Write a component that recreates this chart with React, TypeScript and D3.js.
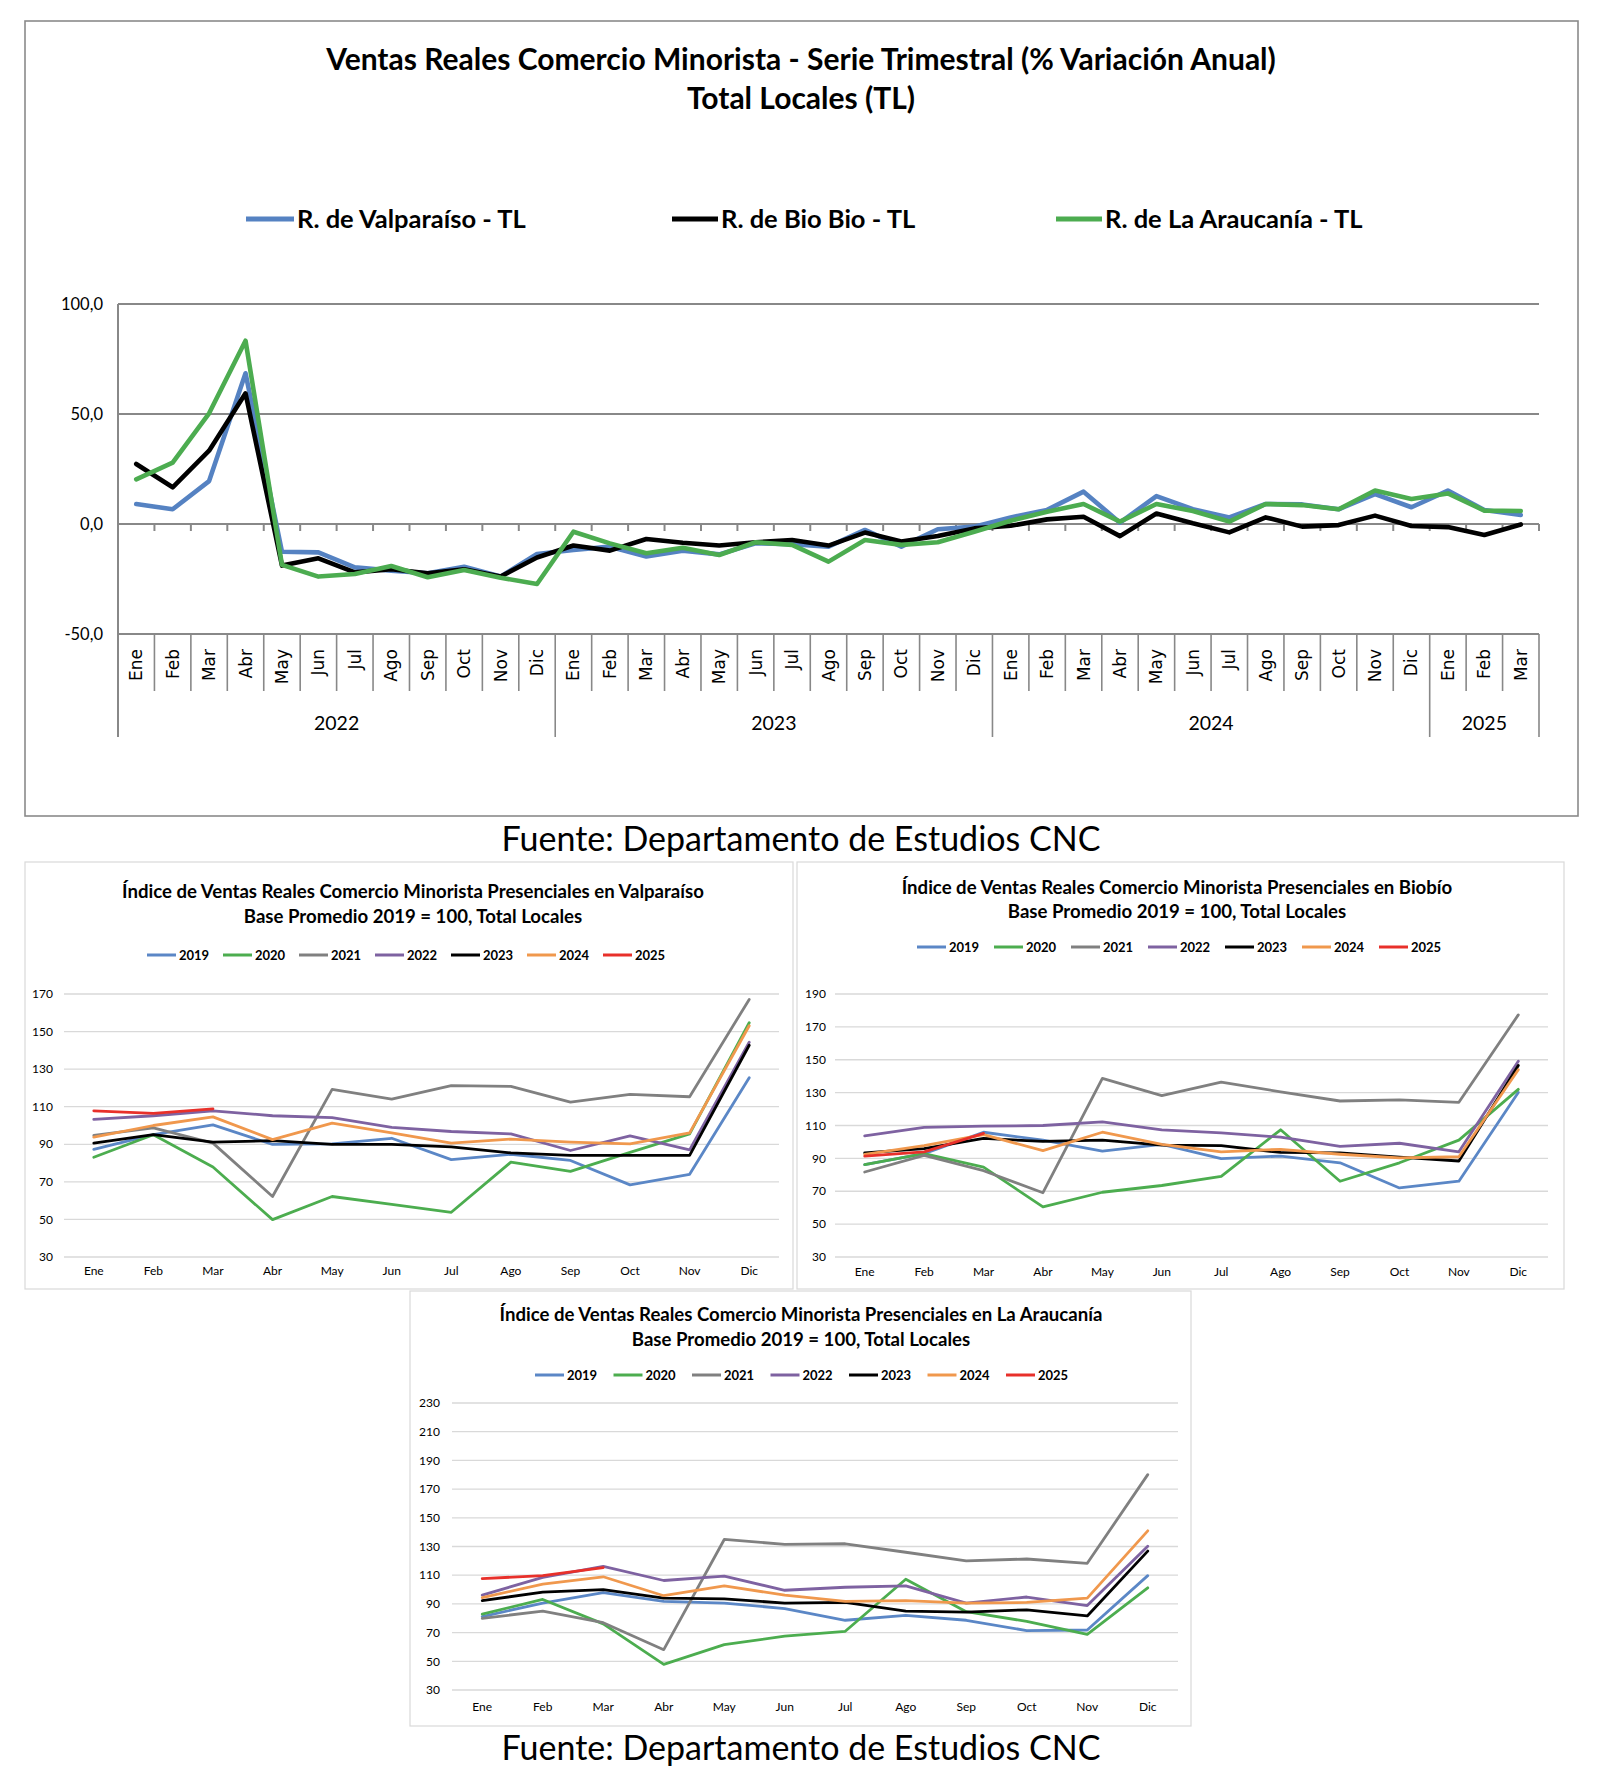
import React from "react";
import * as d3 from "d3";

// ---------- Top chart data ----------
const monthNames = ["Ene", "Feb", "Mar", "Abr", "May", "Jun", "Jul", "Ago", "Sep", "Oct", "Nov", "Dic"];
const topYears = ["2022", "2023", "2024", "2025"];
const topYearMonthCounts = [12, 12, 12, 3];
const topMonthLabels = [
  ...monthNames, ...monthNames, ...monthNames, "Ene", "Feb", "Mar",
];
const valparaisoTL = [
  9.1, 6.7, 19.5, 68.5, -12.6, -12.9, -19.7, -21.2, -22.4, -19.4, -23.9, -13.6,
  -11.8, -10.3, -14.8, -12.1, -13.8, -8.8, -9.2, -10.3, -2.7, -10.3, -2.4, -1.2,
  3.0, 6.4, 14.7, 0.6, 12.7, 6.7, 3.0, 9.1, 8.9, 6.7, 13.6, 7.6,
  15.2, 6.4, 4.1,
];
const bioBioTL = [
  27.3, 16.7, 33.3, 59.4, -18.9, -15.6, -22.0, -20.6, -22.4, -20.6, -23.9, -15.2,
  -9.8, -12.1, -6.8, -8.5, -9.8, -8.3, -7.3, -9.8, -3.9, -8.0, -5.5, -2.0,
  -0.8, 2.1, 3.3, -5.5, 4.8, 0.3, -3.8, 3.0, -1.2, -0.5, 3.8, -0.9,
  -1.4, -5.0, -0.2,
];
const araucaniaTL = [
  20.3, 27.9, 50.3, 83.3, -18.6, -23.9, -22.7, -19.1, -24.2, -20.9, -24.4, -27.3,
  -3.5, -8.8, -13.3, -10.8, -14.1, -8.3, -9.5, -17.1, -7.3, -9.5, -8.3, -3.5,
  1.5, 5.6, 9.1, 1.1, 9.1, 5.9, 1.1, 9.1, 8.6, 6.7, 15.2, 11.4,
  13.9, 6.1, 5.9,
];
const topSeriesNames = ["R. de Valparaíso - TL", "R. de Bio Bio - TL", "R. de La Araucanía - TL"];
const topYTicks = [100, 50, 0, -50];
const topYTickLabels = ["100,0", "50,0", "0,0", "-50,0"];

// ---------- Bottom charts data ----------
const yearKeys = ["2019", "2020", "2021", "2022", "2023", "2024", "2025"];

const valp2019 = [87.3, 95.1, 100.3, 89.9, 90.2, 93.2, 81.8, 84.7, 81.4, 68.4, 74.0, 125.4];
const valp2020 = [83.1, 95.1, 77.9, 49.9, 62.2, 58.0, 53.8, 80.5, 75.6, 85.7, 95.5, 154.7];
const valp2021 = [94.8, 98.7, 90.6, 62.2, 119.2, 114.0, 121.2, 120.8, 112.4, 116.6, 115.3, 167.1];
const valp2022 = [103.3, 105.2, 107.8, 105.2, 104.2, 99.0, 96.8, 95.5, 86.7, 94.5, 87.0, 144.3];
const valp2023 = [90.6, 95.1, 91.2, 91.9, 89.9, 89.9, 88.6, 85.4, 84.1, 84.1, 84.1, 142.7];
const valp2024 = [93.8, 100.0, 104.6, 92.5, 101.3, 96.1, 90.6, 92.8, 91.2, 90.2, 96.1, 153.1];
const valp2025 = [107.8, 106.5, 108.8];

const bio2019 = [86.2, 92.9, 105.9, 101.1, 94.4, 98.5, 89.9, 91.4, 87.3, 72.0, 76.1, 130.1];
const bio2020 = [86.2, 92.9, 84.7, 60.5, 69.4, 73.5, 79.1, 107.4, 76.1, 87.3, 101.1, 132.0];
const bio2021 = [81.7, 91.8, 82.5, 69.1, 138.7, 128.2, 136.4, 130.5, 124.9, 125.6, 124.1, 177.3];
const bio2022 = [103.7, 108.9, 109.6, 110.0, 112.2, 107.4, 105.5, 102.9, 97.3, 99.2, 94.0, 149.1];
const bio2023 = [93.3, 95.9, 102.2, 100.3, 101.1, 98.1, 97.7, 93.6, 93.3, 90.7, 88.4, 146.5];
const bio2024 = [92.5, 97.7, 104.4, 94.7, 105.9, 98.5, 94.0, 95.5, 92.5, 90.3, 91.0, 143.9];
const bio2025 = [91.4, 94.0, 105.2];

const arau2019 = [81.2, 90.6, 97.8, 91.8, 90.6, 86.7, 78.6, 82.0, 78.6, 71.4, 71.8, 109.7];
const arau2020 = [82.9, 93.1, 76.1, 47.9, 61.6, 67.5, 70.9, 107.2, 84.6, 77.8, 68.8, 101.2];
const arau2021 = [79.9, 85.0, 76.9, 58.1, 134.9, 131.5, 131.9, 126.0, 120.0, 121.3, 118.3, 180.1];
const arau2022 = [96.1, 108.5, 116.1, 106.3, 109.3, 99.5, 101.6, 102.5, 90.6, 94.8, 88.8, 130.2];
const arau2023 = [92.3, 98.2, 99.9, 94.0, 93.5, 90.6, 91.0, 85.0, 84.2, 85.9, 81.6, 126.8];
const arau2024 = [94.4, 103.8, 108.9, 95.7, 102.5, 96.1, 91.8, 92.3, 90.6, 91.0, 94.0, 140.9];
const arau2025 = [107.6, 109.7, 115.3];

const valpTicks = [30, 50, 70, 90, 110, 130, 150, 170];
const bioTicks = [30, 50, 70, 90, 110, 130, 150, 170, 190];
const arauTicks = [30, 50, 70, 90, 110, 130, 150, 170, 190, 210, 230];

const sourceText = "Fuente: Departamento de Estudios CNC";

// ---------- styles ----------
const CAL = "Lato, 'Open Sans', sans-serif";
const topColors = ["#5582c2", "#000000", "#4cac50"];
const yearColors = ["#5b87c6", "#4cad4f", "#808080", "#7e62a1", "#000000", "#f0984d", "#e8302a"];

function TopChart() {
  const left = 118;
  const right = 1539;
  const x = d3.scaleBand<number>().domain(d3.range(39)).range([left, right]).padding(0);
  const bw = x.bandwidth();
  const cx = (i: number) => (x(i) as number) + bw / 2;
  const y = d3.scaleLinear().domain([-50, 100]).range([634, 304]);
  const line = d3.line<number>().x((_, i) => cx(i)).y((d) => y(d));
  const series = [valparaisoTL, bioBioTL, araucaniaTL];
  const legendX = [{ l: 246, t: 297 }, { l: 672, t: 721 }, { l: 1056, t: 1105 }];
  const gridColor = "#888888";
  const axisBottom = 737;
  const monthSepBottom = 691;
  const yearBounds: number[] = [0];
  topYearMonthCounts.forEach((c) => yearBounds.push(yearBounds[yearBounds.length - 1] + c));
  const bx = (k: number) => left + k * bw;

  return (
    <g>
      <rect x={25} y={21} width={1553} height={795} fill="#fff" stroke="#8a8a8a" strokeWidth={1.6} />
      <text x={801} y={70} textAnchor="middle" fontFamily={CAL} fontWeight={700} fontSize={30} fill="#000">
        Ventas Reales Comercio Minorista - Serie Trimestral (% Variación Anual)
      </text>
      <text x={801} y={109} textAnchor="middle" fontFamily={CAL} fontWeight={700} fontSize={30} fill="#000">
        Total Locales (TL)
      </text>
      {topSeriesNames.map((n, i) => (
        <g key={n}>
          <line x1={legendX[i].l} x2={legendX[i].t - 3} y1={219} y2={219} stroke={topColors[i]} strokeWidth={5} />
          <text x={legendX[i].t} y={228} fontFamily={CAL} fontWeight={700} fontSize={25.5} fill="#000">
            {n}
          </text>
        </g>
      ))}
      {topYTicks.map((t, i) => (
        <g key={t}>
          <line x1={left} x2={right} y1={y(t)} y2={y(t)} stroke={gridColor} strokeWidth={2} />
          <text x={103} y={y(t)} dy="0.35em" textAnchor="end" fontFamily={CAL} fontSize={16.5} fill="#000">
            {topYTickLabels[i]}
          </text>
        </g>
      ))}
      <line x1={left} x2={left} y1={y(100)} y2={axisBottom} stroke={gridColor} strokeWidth={2} />
      {d3.range(1, 40).map((k) => (
        <line key={"t" + k} x1={bx(k)} x2={bx(k)} y1={y(0)} y2={y(0) + 7} stroke={gridColor} strokeWidth={2} />
      ))}
      {d3.range(1, 40).map((k) => (
        <line
          key={"s" + k}
          x1={bx(k)}
          x2={bx(k)}
          y1={y(-50)}
          y2={yearBounds.includes(k) ? axisBottom : monthSepBottom}
          stroke={gridColor}
          strokeWidth={1.6}
        />
      ))}
      {topMonthLabels.map((m, i) => (
        <text
          key={"m" + i}
          transform={`translate(${cx(i)},${649}) rotate(-90)`}
          textAnchor="end"
          dominantBaseline="central"
          fontFamily="'DejaVu Sans', Verdana, sans-serif"
          fontSize={17}
          fill="#000"
        >
          {m}
        </text>
      ))}
      {topYears.map((yr, i) => (
        <text
          key={yr}
          x={(bx(yearBounds[i]) + bx(yearBounds[i + 1])) / 2}
          y={723}
          dy="0.35em"
          textAnchor="middle"
          fontFamily={CAL}
          fontSize={19.5}
          fill="#000"
        >
          {yr}
        </text>
      ))}
      {series.map((s, i) => (
        <path
          key={"p" + i}
          d={line(s) || ""}
          fill="none"
          stroke={topColors[i]}
          strokeWidth={4.6}
          strokeLinejoin="round"
          strokeLinecap="round"
        />
      ))}
    </g>
  );
}

type SmallProps = {
  fx: number; fy: number; fw: number; fh: number;
  title1: string; title2: string; tcx: number; t1y: number; t2y: number;
  legY: number; legX0: number; legStep: number;
  left: number; right: number; top: number; bottom: number;
  ticks: number[]; labelRight: number; xLabelY: number;
  data: number[][];
};

function SmallChart(p: SmallProps) {
  const x = d3.scalePoint<string>().domain(monthNames).range([p.left, p.right]).padding(0.5);
  const y = d3.scaleLinear().domain([p.ticks[0], p.ticks[p.ticks.length - 1]]).range([p.bottom, p.top]);
  const line = d3.line<number>().x((_, i) => x(monthNames[i]) as number).y((d) => y(d));
  return (
    <g>
      <rect x={p.fx} y={p.fy} width={p.fw} height={p.fh} fill="#fff" stroke="#d9d9d9" strokeWidth={1.2} />
      <text x={p.tcx} y={p.t1y} dy="0.35em" textAnchor="middle" fontFamily={CAL} fontWeight={700} fontSize={18.6} fill="#000">
        {p.title1}
      </text>
      <text x={p.tcx} y={p.t2y} dy="0.35em" textAnchor="middle" fontFamily={CAL} fontWeight={700} fontSize={18.6} fill="#000">
        {p.title2}
      </text>
      {yearKeys.map((k, i) => (
        <g key={k}>
          <line
            x1={p.legX0 + i * p.legStep}
            x2={p.legX0 + i * p.legStep + 29}
            y1={p.legY}
            y2={p.legY}
            stroke={yearColors[i]}
            strokeWidth={3}
          />
          <text
            x={p.legX0 + i * p.legStep + 32}
            y={p.legY}
            dy="0.36em"
            fontFamily={CAL}
            fontWeight={700}
            fontSize={13}
            fill="#000"
          >
            {k}
          </text>
        </g>
      ))}
      {p.ticks.map((t) => (
        <g key={t}>
          <line x1={p.left} x2={p.right} y1={y(t)} y2={y(t)} stroke="#d9d9d9" strokeWidth={1.3} />
          <text x={p.labelRight} y={y(t)} dy="0.35em" textAnchor="end" fontFamily={CAL} fontSize={12} fill="#000">
            {t}
          </text>
        </g>
      ))}
      {monthNames.map((m) => (
        <text key={m} x={x(m) as number} y={p.xLabelY} dy="0.35em" textAnchor="middle" fontFamily={CAL} fontSize={12} fill="#000">
          {m}
        </text>
      ))}
      {p.data.map((s, i) => (
        <path
          key={"d" + i}
          d={line(s) || ""}
          fill="none"
          stroke={yearColors[i]}
          strokeWidth={2.8}
          strokeLinejoin="round"
          strokeLinecap="round"
        />
      ))}
    </g>
  );
}

export default function App() {
  return (
    <svg
      width={1606}
      height={1784}
      viewBox="0 0 1606 1784"
      style={{ position: "absolute", left: 0, top: 0, background: "#fff" }}
    >
      <rect x={0} y={0} width={1606} height={1784} fill="#fff" />
      <TopChart />
      <text x={801} y={839} dy="0.35em" textAnchor="middle" fontFamily={CAL} fontSize={34} fill="#000">
        {sourceText}
      </text>
      <SmallChart
        fx={25} fy={862} fw={768} fh={427}
        title1="Índice de Ventas Reales Comercio Minorista Presenciales en Valparaíso"
        title2="Base Promedio 2019 = 100, Total Locales"
        tcx={413} t1y={891} t2y={916}
        legY={955} legX0={147} legStep={76}
        left={64} right={779} top={994} bottom={1257}
        ticks={valpTicks} labelRight={53} xLabelY={1271}
        data={[valp2019, valp2020, valp2021, valp2022, valp2023, valp2024, valp2025]}
      />
      <SmallChart
        fx={797} fy={862} fw={767} fh={427}
        title1="Índice de Ventas Reales Comercio Minorista Presenciales en Biobío"
        title2="Base Promedio 2019 = 100, Total Locales"
        tcx={1177} t1y={887} t2y={911}
        legY={947} legX0={917} legStep={77}
        left={835} right={1548} top={994} bottom={1257}
        ticks={bioTicks} labelRight={826} xLabelY={1272}
        data={[bio2019, bio2020, bio2021, bio2022, bio2023, bio2024, bio2025]}
      />
      <SmallChart
        fx={410} fy={1291} fw={781} fh={435}
        title1="Índice de Ventas Reales Comercio Minorista Presenciales en La Araucanía"
        title2="Base Promedio 2019 = 100, Total Locales"
        tcx={801} t1y={1314} t2y={1339}
        legY={1375} legX0={535} legStep={78.5}
        left={452} right={1178} top={1403} bottom={1690}
        ticks={arauTicks} labelRight={440} xLabelY={1707}
        data={[arau2019, arau2020, arau2021, arau2022, arau2023, arau2024, arau2025]}
      />
      <text x={801} y={1748} dy="0.35em" textAnchor="middle" fontFamily={CAL} fontSize={34} fill="#000">
        {sourceText}
      </text>
    </svg>
  );
}
